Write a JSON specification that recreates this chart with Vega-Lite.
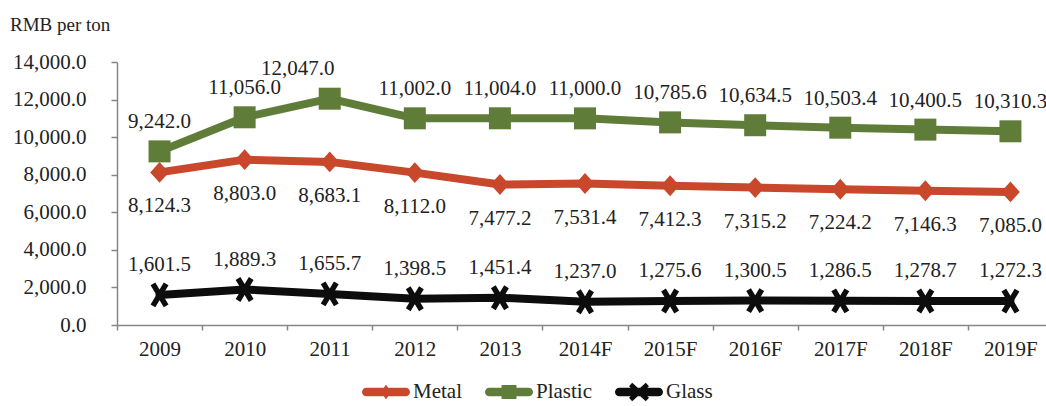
{
  "$schema": "https://vega.github.io/schema/vega-lite/v6.json",
  "width": 929,
  "height": 263,
  "autosize": {"type": "none"},
  "padding": {"left": 117, "top": 62, "right": 0, "bottom": 81},
  "background": "white",
  "title": {
    "text": "RMB per ton",
    "anchor": "start",
    "frame": "group",
    "font": "Liberation Serif",
    "fontSize": 19,
    "fontWeight": "normal",
    "color": "#222222",
    "baseline": "alphabetic",
    "dx": -107,
    "dy": 27,
    "offset": 28
  },
  "config": {
    "view": {"stroke": null},
    "font": "Liberation Serif",
    "title": {"font": "Liberation Serif"},
    "axis": {
      "labelFont": "Liberation Serif",
      "labelFontSize": 21,
      "labelColor": "#222222",
      "domainColor": "#868686",
      "domainWidth": 1.5,
      "tickColor": "#868686",
      "tickWidth": 1.5,
      "grid": false,
      "title": null
    },
    "legend": {
      "labelFont": "Liberation Serif",
      "labelFontSize": 21,
      "labelColor": "#222222"
    }
  },
  "data": {
    "values": [
      {"year": "2009", "series": "Metal", "value": 8124.3},
      {"year": "2010", "series": "Metal", "value": 8803.0},
      {"year": "2011", "series": "Metal", "value": 8683.1},
      {"year": "2012", "series": "Metal", "value": 8112.0},
      {"year": "2013", "series": "Metal", "value": 7477.2},
      {"year": "2014F", "series": "Metal", "value": 7531.4},
      {"year": "2015F", "series": "Metal", "value": 7412.3},
      {"year": "2016F", "series": "Metal", "value": 7315.2},
      {"year": "2017F", "series": "Metal", "value": 7224.2},
      {"year": "2018F", "series": "Metal", "value": 7146.3},
      {"year": "2019F", "series": "Metal", "value": 7085.0},
      {"year": "2009", "series": "Plastic", "value": 9242.0},
      {"year": "2010", "series": "Plastic", "value": 11056.0},
      {"year": "2011", "series": "Plastic", "value": 12047.0},
      {"year": "2012", "series": "Plastic", "value": 11002.0},
      {"year": "2013", "series": "Plastic", "value": 11004.0},
      {"year": "2014F", "series": "Plastic", "value": 11000.0},
      {"year": "2015F", "series": "Plastic", "value": 10785.6},
      {"year": "2016F", "series": "Plastic", "value": 10634.5},
      {"year": "2017F", "series": "Plastic", "value": 10503.4},
      {"year": "2018F", "series": "Plastic", "value": 10400.5},
      {"year": "2019F", "series": "Plastic", "value": 10310.3},
      {"year": "2009", "series": "Glass", "value": 1601.5},
      {"year": "2010", "series": "Glass", "value": 1889.3},
      {"year": "2011", "series": "Glass", "value": 1655.7},
      {"year": "2012", "series": "Glass", "value": 1398.5},
      {"year": "2013", "series": "Glass", "value": 1451.4},
      {"year": "2014F", "series": "Glass", "value": 1237.0},
      {"year": "2015F", "series": "Glass", "value": 1275.6},
      {"year": "2016F", "series": "Glass", "value": 1300.5},
      {"year": "2017F", "series": "Glass", "value": 1286.5},
      {"year": "2018F", "series": "Glass", "value": 1278.7},
      {"year": "2019F", "series": "Glass", "value": 1272.3}
    ]
  },
  "encoding": {
    "x": {
      "field": "year",
      "type": "nominal",
      "sort": null,
      "scale": {"type": "band", "paddingInner": 0, "paddingOuter": 0, "range": [0, 936]},
      "axis": {
        "labelAngle": 0,
        "tickBand": "extent",
        "tickSize": 5,
        "labelPadding": 8
      }
    },
    "y": {
      "field": "value",
      "type": "quantitative",
      "scale": {"domain": [0, 14000], "nice": false, "zero": true},
      "axis": {
        "values": [0, 2000, 4000, 6000, 8000, 10000, 12000, 14000],
        "format": ",.1f",
        "tickSize": 6,
        "labelPadding": 25
      }
    },
    "color": {
      "field": "series",
      "type": "nominal",
      "scale": {"domain": ["Metal", "Plastic", "Glass"], "range": ["#C9472B", "#5F7D38", "#0D0D0D"]},
      "legend": {
        "title": null,
        "orient": "none",
        "direction": "horizontal",
        "legendX": 245,
        "legendY": 306,
        "padding": 0,
        "symbolSize": 2304,
        "labelOffset": 3,
        "columnPadding": 23,
        "encode": {
          "symbols": {
            "update": {
              "shape": {"signal": "datum.value === 'Metal' ? 'M-0.82,-0.18L0.82,-0.18A0.18,0.18 0 0 1 0.82,0.18L-0.82,0.18A0.18,0.18 0 0 1 -0.82,-0.18ZM0,-0.3L0.22,0L0,0.3L-0.22,0Z' : datum.value === 'Plastic' ? 'M-0.82,-0.18L0.82,-0.18A0.18,0.18 0 0 1 0.82,0.18L-0.82,0.18A0.18,0.18 0 0 1 -0.82,-0.18ZM-0.31,-0.29L0.31,-0.29L0.31,0.29L-0.31,0.29Z' : 'M-0.82,-0.18L0.82,-0.18A0.18,0.18 0 0 1 0.82,0.18L-0.82,0.18A0.18,0.18 0 0 1 -0.82,-0.18ZM-0.284,-0.385L0.416,0.235L0.284,0.385L-0.416,-0.235ZM0.416,-0.235L-0.284,0.385L-0.416,0.235L0.284,-0.385Z'"},
              "fill": {"signal": "scale('color', datum.value)"},
              "stroke": {"value": "transparent"},
              "strokeWidth": {"value": 0},
              "opacity": {"value": 1},
              "fillOpacity": {"value": 1}
            }
          }
        }
      }
    }
  },
  "layer": [
    {
      "mark": {"type": "line", "strokeWidth": 8, "strokeJoin": "round", "strokeCap": "round"}
    },
    {
      "transform": [{"filter": "datum.series === 'Metal'"}],
      "mark": {"type": "point", "filled": true, "size": 484, "opacity": 1, "strokeWidth": 0, "shape": "M0,-0.95L0.85,0L0,0.95L-0.85,0Z"}
    },
    {
      "transform": [{"filter": "datum.series === 'Plastic'"}],
      "mark": {"type": "point", "filled": true, "size": 484, "opacity": 1, "strokeWidth": 0, "shape": "M-1,-1L1,-1L1,1L-1,1Z"}
    },
    {
      "transform": [{"filter": "datum.series === 'Glass'"}],
      "mark": {"type": "point", "filled": true, "size": 484, "opacity": 1, "strokeWidth": 0, "shape": "M-0.386,-1.129L0.814,0.871L0.386,1.129L-0.814,-0.871ZM0.814,-0.871L-0.386,1.129L-0.814,0.871L0.386,-1.129Z"}
    },
    {
      "transform": [{"filter": "datum.series === 'Metal'"}],
      "mark": {"type": "text", "dy": 40, "baseline": "alphabetic", "fontSize": 21, "font": "Liberation Serif", "color": "#222222"},
      "encoding": {"text": {"field": "value", "type": "quantitative", "format": ",.1f"}, "color": {"value": "#222222"}}
    },
    {
      "transform": [{"filter": "datum.series === 'Plastic' && datum.year !== '2011'"}],
      "mark": {"type": "text", "dy": -23, "baseline": "alphabetic", "fontSize": 21, "font": "Liberation Serif", "color": "#222222"},
      "encoding": {"text": {"field": "value", "type": "quantitative", "format": ",.1f"}, "color": {"value": "#222222"}}
    },
    {
      "transform": [{"filter": "datum.series === 'Plastic' && datum.year === '2011'"}],
      "mark": {"type": "text", "dx": -32, "dy": -24, "baseline": "alphabetic", "fontSize": 21, "font": "Liberation Serif", "color": "#222222"},
      "encoding": {"text": {"field": "value", "type": "quantitative", "format": ",.1f"}, "color": {"value": "#222222"}}
    },
    {
      "transform": [{"filter": "datum.series === 'Glass'"}],
      "mark": {"type": "text", "dy": -24, "baseline": "alphabetic", "fontSize": 21, "font": "Liberation Serif", "color": "#222222"},
      "encoding": {"text": {"field": "value", "type": "quantitative", "format": ",.1f"}, "color": {"value": "#222222"}}
    }
  ]
}
